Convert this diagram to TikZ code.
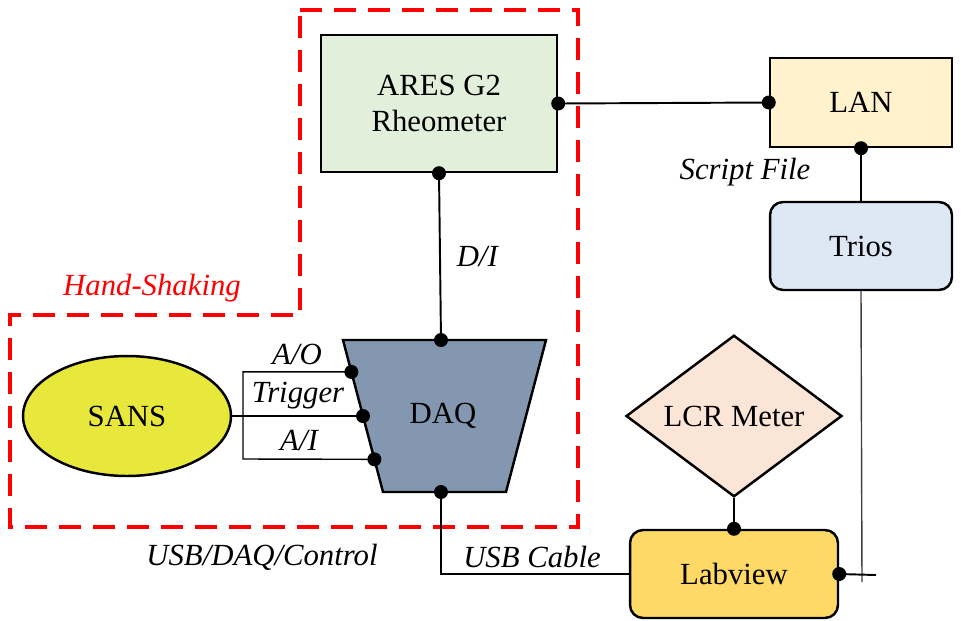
\documentclass[tikz,border=0pt]{standalone}
\usepackage{fontspec}
\setmainfont{Liberation Serif}
\usetikzlibrary{shapes.geometric,calc}
\definecolor{aresgreen}{HTML}{E2EFDA}
\definecolor{lanyellow}{HTML}{FFF2CC}
\definecolor{triosblue}{HTML}{DEE8F5}
\definecolor{daqblue}{HTML}{8497B0}
\definecolor{sansyellow}{HTML}{E8E83C}
\definecolor{lcrpink}{HTML}{FBE5D6}
\definecolor{labgold}{HTML}{FFD966}
\begin{document}
\begin{tikzpicture}[
  x=0.02cm, y=-0.02cm,
  font=\fontsize{17.5}{20}\selectfont,
  box/.style={draw, line width=1.4pt, inner sep=0pt, align=center},
  rbox/.style={box, rounded corners=0.26cm},
  wire/.style={line width=1.1pt},
  thin wire/.style={line width=0.8pt},
  lbl/.style={font=\fontsize{17.5}{20}\selectfont\itshape, inner sep=1pt},
  dot/.style={fill=black}
]
\useasboundingbox (0,0) rectangle (961,620);
% ---------------- hand-shaking region ----------------
\draw[red, line width=2.4pt, dash pattern=on 0.44cm off 0.24cm]
  (300,10) -- (578,10) -- (578,527) -- (10,527) -- (10,315) -- (300,315) -- cycle;
\node[lbl, text=red] (hs) at (152,288) {Hand-Shaking};
% ---------------- instruments ----------------
\node[box, fill=aresgreen, minimum width=4.72cm, minimum height=2.74cm] (ares) at (439,103.5) {ARES G2\\Rheometer};
\node[box, fill=lanyellow, minimum width=3.64cm, minimum height=1.78cm] (lan) at (861,102.5) {LAN};
\node[rbox, fill=triosblue, minimum width=3.64cm, minimum height=1.76cm] (trios) at (861,246) {Trios};
\node[rbox, fill=labgold, minimum width=4.16cm, minimum height=1.76cm] (lab) at (734,574) {Labview};
\node[box, diamond, fill=lcrpink, minimum width=4.32cm, minimum height=2.48cm] (lcr) at (734,416) {LCR Meter};
\node[box, ellipse, fill=sansyellow, minimum width=4.16cm, minimum height=2.4cm] (sans) at (127,416) {SANS};
% ---------------- DAQ ----------------
\draw[line width=1.4pt, fill=daqblue] (343,340) coordinate (dtl) -- (546,340) coordinate (dtr)
  -- (506,492) coordinate (dbr) -- (383,492) coordinate (dbl) -- cycle;
\node (daq) at (443,416) {DAQ};
\coordinate (dtop) at (441,340);
\coordinate (dbot) at (441,492);
\coordinate (pao) at ($(dtl)!0.21!(dbl)$);
\coordinate (ptr) at ($(dtl)!0.5!(dbl)$);
\coordinate (pai) at ($(dtl)!0.785!(dbl)$);
% ---------------- connectors ----------------
\draw[wire] (ares.east) -- (lan.west);
\draw[wire] (lan.south) -- (trios.north);
\draw[wire] (ares.south) -- node[lbl, right=8pt, pos=0.5] (di) {D/I} (dtop);
\draw[wire] (dbot) |- (lab.west);
\draw[wire] (lcr.south) -- (lab.north);
\coordinate (tend) at (862,582);
\coordinate (lend) at (876,575);
\draw[thin wire, black!75] (trios.south) -- (tend);
\draw[wire] (lab.east) -- (lend);
% SANS signal lines
\coordinate (brt) at (243,372);
\coordinate (brb) at (243,459);
\draw[thin wire] (pao) -- (pao -| brt) -- (brb) -- (pai);
\draw[thin wire] (sans.east) -- (ptr);
% ---------------- labels ----------------
\node[lbl] (ao) at (297,354) {A/O};
\node[lbl] (trig) at (298,396) {Trigger};
\node[lbl] (ai) at (299,440) {A/I};
\node[lbl] (script) at (745,172) {Script File};
\node[lbl] (usb) at (532,557) {USB Cable};
\node[lbl] (ctrl) at (262,557) {USB/DAQ/Control};
% ---------------- dots ----------------
\foreach \p in {ares.east, lan.west, lan.south, ares.south, dtop, dbot, pao, ptr, pai, lab.north, lab.east}
  \fill[dot] (\p) circle (0.14cm);
\end{tikzpicture}
\end{document}
